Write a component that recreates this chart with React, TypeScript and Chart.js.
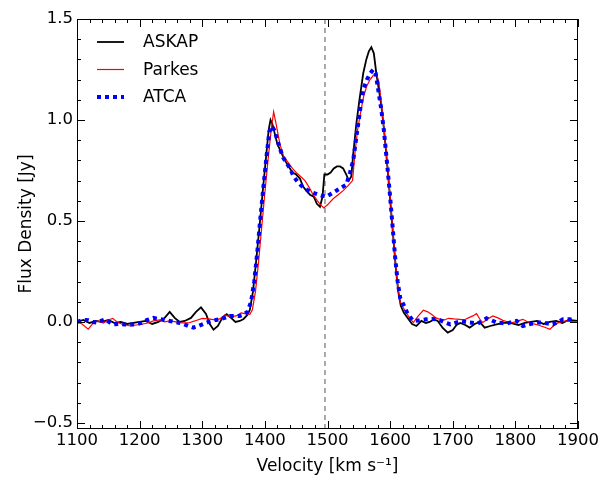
import React, { useEffect, useRef } from "react";
import { Chart, ChartConfiguration, Plugin, registerables } from "chart.js";

Chart.register(...registerables);

// ASKAP spectrum (km/s, Jy)
const askapVelocity = [
  1100, 1110, 1120, 1130, 1140, 1150, 1160, 1170, 1180, 1190, 1200, 1210, 1220, 1230, 1240, 1248, 1256, 1264, 1272,
  1282, 1290, 1298, 1306, 1312, 1318, 1325, 1332, 1339, 1346, 1353, 1360, 1366, 1372, 1376, 1381, 1386, 1392, 1397,
  1402, 1406, 1409, 1412, 1416, 1420, 1426, 1432, 1438, 1444, 1450, 1456, 1461, 1466, 1472, 1478, 1483, 1488, 1492,
  1495, 1500, 1505, 1510, 1515, 1520, 1525, 1530, 1534, 1538, 1541, 1546, 1551, 1557, 1562, 1566, 1570, 1574, 1578,
  1582, 1586, 1590, 1593, 1597, 1601, 1605, 1609, 1613, 1617, 1622, 1628, 1635, 1642, 1650, 1657, 1663, 1670,
  1676, 1684, 1692, 1700, 1706, 1712, 1720, 1727, 1735, 1743, 1751, 1760, 1770, 1780, 1791, 1798, 1805, 1815, 1825,
  1835, 1845, 1855, 1865, 1875, 1885, 1900,
];
const askapFlux = [
  0.0, 0.01, -0.005, 0.005, 0.0, 0.01, -0.005, 0.0, -0.01, -0.005, 0.0, 0.005, -0.01, 0.0, 0.02, 0.05, 0.02, 0.0, 0.005,
  0.02, 0.05, 0.072, 0.04, -0.01, -0.038, -0.02, 0.02, 0.038, 0.02, 0.0, 0.005, 0.015, 0.035, 0.06, 0.15, 0.3, 0.49, 0.66,
  0.82, 0.95, 1.0, 0.98, 0.93, 0.88, 0.84, 0.8, 0.77, 0.74, 0.73, 0.71, 0.67, 0.65, 0.63, 0.62, 0.585, 0.57, 0.62,
  0.73, 0.73, 0.74, 0.76, 0.77, 0.77, 0.76, 0.73, 0.7, 0.72, 0.83, 0.98, 1.1, 1.23, 1.3, 1.34, 1.36, 1.33, 1.23,
  1.15, 1.07, 0.96, 0.86, 0.72, 0.57, 0.42, 0.27, 0.15, 0.08, 0.045, 0.02, -0.01, -0.02, 0.005, -0.005, 0.0, 0.012,
  0.005, -0.03, -0.053, -0.04, -0.015, -0.005, -0.015, -0.028, -0.01, 0.0, -0.028, -0.02, -0.012, -0.005, -0.003, -0.01,
  -0.015, -0.005, 0.0, 0.005, -0.01, 0.0, 0.005, -0.005, 0.01, 0.005,
];

// Parkes spectrum
const parkesVelocity = [
  1100, 1108, 1118, 1126, 1133, 1142, 1150, 1157, 1164, 1171, 1178, 1185, 1195, 1205, 1213, 1222, 1232, 1240, 1248,
  1258, 1268, 1278, 1288, 1300, 1310, 1320, 1328, 1336, 1345, 1354, 1362, 1370, 1376, 1380, 1385, 1390, 1395, 1400,
  1405, 1410, 1414, 1418, 1424, 1430, 1437, 1444, 1450, 1457, 1464, 1470, 1477, 1484, 1489, 1494, 1500, 1509, 1517,
  1525, 1533, 1540, 1544, 1548, 1553, 1558, 1563, 1568, 1573, 1578, 1582, 1586, 1590, 1595, 1600, 1604, 1608, 1612,
  1616, 1621, 1629, 1637, 1645, 1653, 1660, 1666, 1673, 1680, 1687, 1693, 1702, 1711, 1718, 1725, 1732, 1738, 1744,
  1748, 1756, 1764, 1772, 1780, 1788, 1796, 1804, 1812, 1820, 1828, 1836, 1846, 1855, 1865, 1873, 1881, 1890, 1897,
];
const parkesFlux = [
  0.0, -0.01, -0.036, -0.005, 0.005, -0.005, 0.01, 0.018, 0.0, -0.01, -0.015, -0.02, -0.015, -0.01, -0.005, 0.005, 0.01,
  0.0, 0.005, 0.0, -0.005, -0.005, 0.005, 0.018, 0.015, 0.01, 0.015, 0.035, 0.025, 0.03, 0.045, 0.04, 0.038, 0.06, 0.15,
  0.3, 0.47, 0.64, 0.8, 0.95, 1.04, 0.98, 0.88, 0.82, 0.79, 0.76, 0.74, 0.72, 0.7, 0.67, 0.63, 0.6, 0.58, 0.565, 0.58,
  0.61, 0.63, 0.65, 0.675, 0.7, 0.84, 0.95, 1.04, 1.12, 1.17, 1.2, 1.22, 1.23, 1.19, 1.08, 0.96, 0.8, 0.62, 0.46, 0.31,
  0.18, 0.1, 0.07, 0.03, -0.003, 0.03, 0.058, 0.05, 0.038, 0.02, 0.013, 0.01, 0.018, 0.015, 0.013, 0.01, 0.02, 0.03,
  0.041, 0.01, -0.003, 0.015, 0.03, 0.02, 0.008, 0.0, -0.003, 0.005, 0.013, 0.0, -0.008, -0.015, -0.025, -0.036, -0.008,
  0.0, 0.005, 0.002, 0.0,
];

// ATCA spectrum
const atcaVelocity = [
  1100, 1110, 1118, 1125, 1131, 1138, 1145, 1151, 1157, 1166, 1176, 1186, 1195, 1203, 1212, 1222, 1230, 1240, 1248,
  1256, 1264, 1270, 1278, 1286, 1294, 1302, 1310, 1316, 1322, 1330, 1337, 1344, 1352, 1360, 1365, 1372, 1378, 1383,
  1388, 1393, 1398, 1403, 1407, 1411, 1415, 1420, 1425, 1429, 1434, 1440, 1446, 1452, 1458, 1464, 1470, 1477, 1484,
  1491, 1498, 1506, 1514, 1522, 1530, 1536, 1541, 1545, 1549, 1553, 1557, 1563, 1568, 1573, 1577, 1581, 1586, 1590,
  1595, 1600, 1604, 1608, 1612, 1616, 1621, 1628, 1637, 1647, 1658, 1668, 1677, 1686, 1696, 1705, 1714, 1721, 1727,
  1734, 1740, 1747, 1754, 1762, 1770, 1778, 1786, 1794, 1802, 1807, 1812, 1820, 1828, 1836, 1844, 1852, 1860, 1868,
  1876, 1887, 1895,
];
const atcaFlux = [
  0.0, 0.01, 0.008, 0.0, -0.003, 0.005, 0.013, 0.0, -0.012, -0.01, -0.012, -0.012, -0.012, -0.005, 0.01, 0.02, 0.015,
  0.01, 0.005, 0.0, -0.005, -0.01, -0.02, -0.028, -0.02, -0.01, 0.0, 0.005, 0.01, 0.015, 0.022, 0.03, 0.03, 0.03, 0.035,
  0.05, 0.1, 0.2, 0.35, 0.52, 0.68, 0.83, 0.94, 0.97, 0.95, 0.9, 0.85, 0.815, 0.79, 0.76, 0.72, 0.695, 0.675, 0.66,
  0.65, 0.64, 0.632, 0.625, 0.62, 0.635, 0.65, 0.665, 0.68, 0.74, 0.8, 0.89, 0.98, 1.07, 1.15, 1.2, 1.23, 1.25, 1.23,
  1.15, 1.05, 0.95, 0.79, 0.62, 0.47, 0.32, 0.2, 0.12, 0.088, 0.04, 0.005, 0.008, 0.013, 0.015, 0.013, 0.0, -0.012,
  -0.003, 0.005, 0.0, -0.003, -0.005, -0.008, 0.005, 0.018, 0.008, -0.003, -0.005, -0.008, 0.0, 0.005, -0.008, -0.02,
  -0.012, -0.008, -0.003, -0.003, -0.008, -0.012, 0.0, 0.013, 0.013, 0.008,
];

const systemicVelocity = 1496;
const xTicks = [1100, 1200, 1300, 1400, 1500, 1600, 1700, 1800, 1900];
const yTicks = [-0.5, 0.0, 0.5, 1.0, 1.5];
const xMin = 1100;
const xMax = 1900;
const yMin = -0.53;
const yMax = 1.5;

const FONT = "'DejaVu Sans', sans-serif";

const toPoints = (xs: number[], ys: number[]) => xs.map((x, i) => ({ x, y: ys[i] }));

// inward ticks on all four sides + frame
const frameTicks: Plugin<"line"> = {
  id: "frameTicks",
  afterDraw(chart) {
    const { ctx, chartArea, scales } = chart;
    const { left, right, top, bottom } = chartArea;
    const xs = scales.x;
    const ys = scales.y;
    ctx.save();
    ctx.strokeStyle = "#000";
    ctx.lineWidth = 1;
    ctx.beginPath();
    for (let i = 0; i <= 40; i++) {
      const v = xMin + i * 20;
      const px = Math.round(xs.getPixelForValue(v)) + 0.5;
      const len = i % 5 === 0 ? 8 : 4;
      ctx.moveTo(px, bottom);
      ctx.lineTo(px, bottom - len);
      ctx.moveTo(px, top);
      ctx.lineTo(px, top + len);
    }
    for (let i = -5; i <= 15; i++) {
      const py = Math.round(ys.getPixelForValue(i / 10)) + 0.5;
      const len = i % 5 === 0 ? 8 : 4;
      ctx.moveTo(left, py);
      ctx.lineTo(left + len, py);
      ctx.moveTo(right, py);
      ctx.lineTo(right - len, py);
    }
    ctx.stroke();
    ctx.strokeRect(Math.round(left) + 0.5, Math.round(top) + 0.5, Math.round(right - left) - 1, Math.round(bottom - top) - 1);
    ctx.restore();
  },
};

// legend inside the upper-left corner, no frame
const innerLegend: Plugin<"line"> = {
  id: "innerLegend",
  afterDraw(chart) {
    const { ctx, chartArea } = chart;
    const items = chart.data.datasets.filter((d) => d.label);
    ctx.save();
    ctx.font = `17px ${FONT}`;
    ctx.textBaseline = "middle";
    ctx.textAlign = "left";
    items.forEach((d, i) => {
      const y = chartArea.top + 23 + i * 27.5;
      const x0 = chartArea.left + 20;
      ctx.strokeStyle = d.borderColor as string;
      ctx.lineWidth = (d.borderWidth as number) || 1;
      ctx.setLineDash((d.borderDash as number[]) || []);
      ctx.beginPath();
      ctx.moveTo(x0, y);
      ctx.lineTo(x0 + 27, y);
      ctx.stroke();
      ctx.setLineDash([]);
      ctx.fillStyle = "#000";
      ctx.fillText(d.label as string, chartArea.left + 66, y + 1);
    });
    ctx.restore();
  },
};

const App: React.FC = () => {
  const chartRef = useRef<HTMLCanvasElement | null>(null);

  useEffect(() => {
    if (!chartRef.current) return;
    const ctx = chartRef.current.getContext("2d");
    if (!ctx) return;

    const config: ChartConfiguration<"line"> = {
      type: "line",
      data: {
        datasets: [
          {
            label: "ASKAP",
            data: toPoints(askapVelocity, askapFlux),
            borderColor: "#000000",
            borderWidth: 1.8,
            pointRadius: 0,
            order: 2,
          },
          {
            label: "Parkes",
            data: toPoints(parkesVelocity, parkesFlux),
            borderColor: "#ff0000",
            borderWidth: 1.2,
            pointRadius: 0,
            order: 1,
          },
          {
            label: "ATCA",
            data: toPoints(atcaVelocity, atcaFlux),
            borderColor: "#0000ff",
            borderWidth: 4,
            borderDash: [4, 4],
            pointRadius: 0,
            order: 0,
          },
          {
            data: [
              { x: systemicVelocity, y: yMin },
              { x: systemicVelocity, y: yMax },
            ],
            borderColor: "#555555",
            borderWidth: 1,
            borderDash: [5, 4],
            pointRadius: 0,
            order: 3,
          },
        ],
      },
      options: {
        responsive: false,
        animation: false,
        layout: { padding: { left: 0, right: 23, top: 19, bottom: 0 } },
        plugins: {
          legend: { display: false },
          tooltip: { enabled: false },
        },
        scales: {
          x: {
            type: "linear",
            min: xMin,
            max: xMax,
            grid: { display: false, drawTicks: false },
            border: { display: false },
            afterBuildTicks: (scale) => {
              scale.ticks = xTicks.map((v) => ({ value: v }));
            },
            afterFit: (scale) => {
              scale.height = 49;
            },
            ticks: {
              autoSkip: false,
              maxRotation: 0,
              padding: 2,
              color: "#000",
              font: { family: FONT, size: 16.5 },
              callback: (v) => String(v),
            },
            title: {
              display: true,
              text: "Velocity [km s\u207B\u00B9]",
              color: "#000",
              font: { family: FONT, size: 17 },
              padding: { top: 0, bottom: 1 },
            },
          },
          y: {
            type: "linear",
            min: yMin,
            max: yMax,
            grid: { display: false, drawTicks: false },
            border: { display: false },
            afterBuildTicks: (scale) => {
              scale.ticks = yTicks.map((v) => ({ value: v }));
            },
            afterFit: (scale) => {
              scale.width = 77;
            },
            ticks: {
              padding: 4,
              color: "#000",
              font: { family: FONT, size: 16.5 },
              callback: (v) => {
                const n = Number(v);
                return (n < 0 ? "\u2212" : "") + Math.abs(n).toFixed(1);
              },
            },
            title: {
              display: true,
              text: "Flux Density [Jy]",
              color: "#000",
              font: { family: FONT, size: 17 },
              padding: { top: 16, bottom: 0 },
            },
          },
        },
      },
      plugins: [frameTicks, innerLegend],
    };

    const myChart = new Chart(ctx, config);
    return () => {
      myChart.destroy();
    };
  }, []);

  return (
    <div style={{ position: "absolute", left: 0, top: 0, width: 601, height: 478, background: "#fff" }}>
      <canvas ref={chartRef} width={601} height={478} />
    </div>
  );
};

export default App;
